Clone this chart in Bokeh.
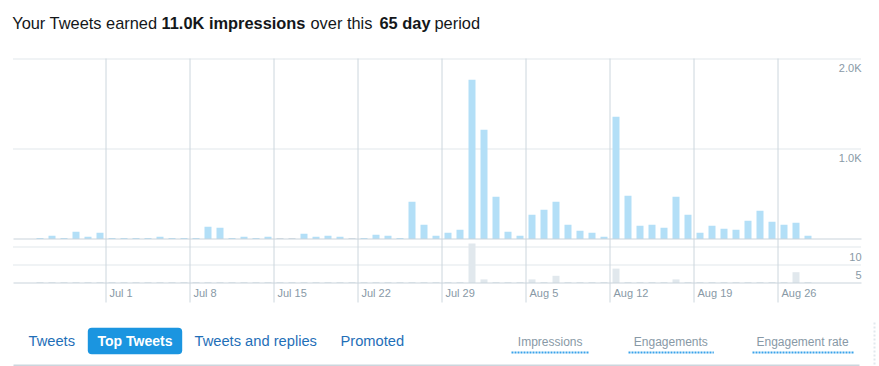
import pandas as pd
from bokeh.plotting import figure
from bokeh.models import Range1d, Quad
from bokeh.core.properties import value
from bokeh.embed import file_html
from bokeh.resources import INLINE

# ---------------- data ----------------
start_date = "2018-06-25"
impressions = [12, 37, 12, 81, 26, 70,            # Jun 25-30
               12, 12, 12, 12, 26, 12, 12,        # Jul 1-7
               12, 137, 126, 12, 26, 12, 26,      # Jul 8-14
               0, 0, 59, 26, 37, 26, 0,           # Jul 15-21
               12, 48, 37, 12, 415, 159, 37,      # Jul 22-28
               70, 104, 1770, 1215, 470, 81, 37,  # Jul 29-Aug 4
               270, 326, 415, 159, 93, 70, 26,    # Aug 5-11
               1359, 481, 148, 159, 126, 470, 270,  # Aug 12-18
               70, 148, 115, 104, 204, 315, 193,  # Aug 19-25
               159, 181, 37]                      # Aug 26-28
engagements = [0, 0, 0, 0, 0, 0,
               0, 0, 0, 0, 0, 0, 0,
               0, 0, 0, 0, 0, 0, 0,
               0, 0, 0, 0, 0, 0, 0,
               0, 0, 0, 0, 0, 0, 0,
               0, 0, 11, 1, 0, 0, 0,
               1, 0, 2, 0, 0, 0, 0,
               4, 0, 0, 0, 0, 1, 0,
               0, 0, 0, 0, 0, 0, 0,
               0, 3, 0]
tick_dates = ["2018-07-01", "2018-07-08", "2018-07-15", "2018-07-22", "2018-07-29",
              "2018-08-05", "2018-08-12", "2018-08-19", "2018-08-26"]
tick_labels = ["Jul 1", "Jul 8", "Jul 15", "Jul 22", "Jul 29",
               "Aug 5", "Aug 12", "Aug 19", "Aug 26"]
imp_ticks = [1000, 2000]
imp_tick_labels = ["1.0K", "2.0K"]
eng_ticks = [5, 10]
eng_tick_labels = ["5", "10"]
title_parts = ["Your Tweets earned", "11.0K impressions", "over this", "65 day", "period"]
title_bold = [False, True, False, True, False]
tabs = ["Tweets", "Top Tweets", "Tweets and replies", "Promoted"]
metrics = ["Impressions", "Engagements", "Engagement rate"]

# ---------------- layout (page pixels) ----------------
DAY = 86400000.0
W, H = 879, 366
JUL1_PX = 105.5
PX_DAY = 12.0
BASE_MAIN, PX_PER_UNIT_MAIN = 238.5, 0.09
BASE_ENG, PX_PER_UNIT_ENG = 282.5, 3.6
LEFT_PX, RIGHT_PX, TOP_PX, BOT_PX = 13, 861, 58, 302

def ms(d):
    return pd.Timestamp(d).value / 1e6

JUL1 = ms("2018-07-01")

def xp(px):
    return JUL1 + (px - JUL1_PX) / PX_DAY * DAY

def ym(py):
    return (BASE_MAIN - py) / PX_PER_UNIT_MAIN

def ye(py):
    return (BASE_ENG - py) / PX_PER_UNIT_ENG

dates = pd.date_range(start_date, periods=len(impressions))
xs = [(d.value / 1e6) + DAY / 2 for d in dates]
ticks_ms = [ms(d) for d in tick_dates]

p = figure(width=W, height=H, min_border=0, x_axis_location=None, y_axis_location=None,
           toolbar_location=None, output_backend="svg", outline_line_color=None,
           x_range=Range1d(xp(0), xp(W)),
           y_range=Range1d(ym(H), ym(0)))
p.extra_y_ranges = {"eng": Range1d(ye(H), ye(0))}
p.grid.visible = False
p.background_fill_color = "white"
p.border_fill_color = "white"

GRID = "#ccd6dd"
DOT = "#c3ced6"
LABEL = "#8899a6"
FONT = value("Liberation Sans")

# horizontal grid
p.segment(x0=[xp(LEFT_PX)] * 2, x1=[xp(RIGHT_PX)] * 2, y0=imp_ticks, y1=imp_ticks,
          line_color=DOT, line_width=1, line_dash="1 1")
p.segment(x0=[xp(LEFT_PX)] * 2, x1=[xp(RIGHT_PX)] * 2, y0=eng_ticks, y1=eng_ticks,
          line_color=DOT, line_width=1, line_dash="1 1", y_range_name="eng")
# vertical grid
p.segment(x0=ticks_ms, x1=ticks_ms, y0=[ym(TOP_PX)] * len(ticks_ms), y1=[ym(BOT_PX)] * len(ticks_ms),
          line_color=GRID, line_width=1)

# bars
bw = 7 / 12 * DAY
stub_main = 1 / PX_PER_UNIT_MAIN
stub_eng = 1 / PX_PER_UNIT_ENG
imp_x = [x for x, v in zip(xs, impressions) if v > 0]
imp_v = [v for v in impressions if v > 0]
zero_x = [x for x, v in zip(xs, impressions) if v == 0]
p.vbar(x=imp_x, top=imp_v, width=bw, bottom=0, fill_color="#b3dff7", line_color=None)
p.vbar(x=zero_x, top=[stub_main] * len(zero_x), width=bw, bottom=0, fill_color="#d3dde4", line_color=None)
eng_top = [v if v > 0 else stub_eng for v in engagements]
p.vbar(x=xs, top=eng_top, width=bw, bottom=0, fill_color="#e1e8ed", line_color=None, y_range_name="eng")

# baselines
p.segment(x0=[xp(LEFT_PX)], x1=[xp(RIGHT_PX)], y0=[0], y1=[0], line_color="#c9d4db", line_width=1.2)
p.segment(x0=[xp(LEFT_PX)], x1=[xp(RIGHT_PX)], y0=[0], y1=[0], line_color="#c9d4db", line_width=1.2,
          y_range_name="eng")

# tick labels
p.text(x=ticks_ms, y=[0] * len(ticks_ms), text=tick_labels, y_range_name="eng",
       x_offset=3.5, y_offset=10.0, text_baseline="middle", text_align="left",
       text_font=FONT, text_font_size="11px", text_color=LABEL)
p.text(x=[xp(RIGHT_PX)] * 2, y=imp_ticks, text=imp_tick_labels, y_offset=9.0,
       text_baseline="middle", text_align="right", text_font=FONT, text_font_size="11px",
       text_color=LABEL)
p.text(x=[xp(RIGHT_PX)] * 2, y=eng_ticks, text=eng_tick_labels, y_offset=10.0, y_range_name="eng",
       text_baseline="middle", text_align="right", text_font=FONT, text_font_size="11px",
       text_color=LABEL)

# title
title_x = [11.7, 161, 310, 379, 434]
for t, b, tx in zip(title_parts, title_bold, title_x):
    p.text(x=[xp(tx)], y=[ym(22.5)], text=[t], text_baseline="middle", text_align="left",
           text_font=FONT, text_font_size="16.4px",
           text_font_style="bold" if b else "normal", text_color="#14171a")

# tabs
box_kw = {"border_radius": 4} if "border_radius" in Quad.properties() else {}
p.quad(left=[xp(87.3)], right=[xp(181.7)], top=[ym(327.3)], bottom=[ym(353.7)],
       fill_color="#1b95e0", line_color=None, **box_kw)
tab_x = [28, 134.5, 194, 340]
for t, tx in zip(tabs, tab_x):
    sel = t == "Top Tweets"
    p.text(x=[xp(tx)], y=[ym(340.5)], text=[t], text_baseline="middle",
           text_align="center" if sel else "left", text_font=FONT,
           text_font_size="14px" if sel else "14.7px", text_font_style="bold" if sel else "normal",
           text_color="white" if sel else "#1f6fb8")

metric_x = [517.3, 633.3, 756]
under = [(511, 588), (628, 713.3), (752, 853.3)]
for t, tx, (u0, u1) in zip(metrics, metric_x, under):
    p.text(x=[xp(tx)], y=[ym(341)], text=[t], text_baseline="middle", text_align="left",
           text_font=FONT, text_font_size="12px", text_color=LABEL)
    p.segment(x0=[xp(u0)], x1=[xp(u1)], y0=[ym(352)], y1=[ym(352)], line_color="#3aa3ea",
              line_width=2, line_dash="2 1")

# right-side dotted divider
p.segment(x0=[xp(874)], x1=[xp(874)], y0=[ym(322)], y1=[ym(366)], line_color="#e1e8ed",
          line_width=2, line_dash="2 2")

# bottom rule
p.segment(x0=[xp(13)], x1=[xp(859)], y0=[ym(365)], y1=[ym(365)], line_color=GRID, line_width=2)

open("out.html", "w").write(file_html(p, INLINE))
